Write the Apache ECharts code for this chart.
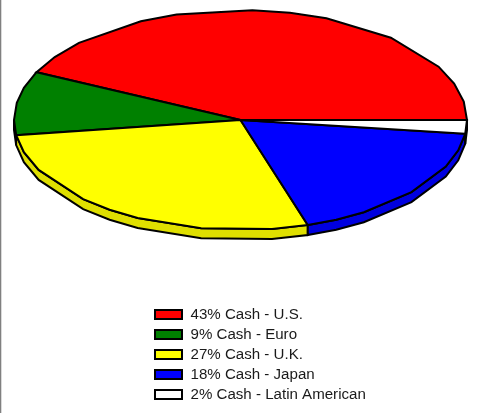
<!DOCTYPE html>
<html><head><meta charset="utf-8">
<style>html,body{margin:0;padding:0;background:#fff}#c{width:478px;height:413px}</style>
<script src="https://cdn.jsdelivr.net/npm/echarts@6/dist/echarts.min.js"></script>
</head><body><div id="c"></div>
<script>
const categories = ['43% Cash - U.S.','9% Cash - Euro','27% Cash - U.K.','18% Cash - Japan','2% Cash - Latin American'];
const shares = [42.85, 9.35, 27.6, 18.2, 2];
const topColors = ['#ff0000','#008000','#ffff00','#0000ff','#ffffff'];
const sideColors = ['#df0000','#007000','#dfdf00','#0000df','#dfdfdf'];
const outlineAngles = [9.7,19.4,29,48.4,67.7,77.4,87,106.4,116.1,135.5,145.1,163,171,180,197,207,226,234.7,243,260,278,295,303,319,335,344];
const DEPTH = 10, LW = 2;
const total = shares.reduce((a,b)=>a+b,0);
let run = 0;
const spans = shares.map(s => { const r=[run/total*360,(run+s)/total*360]; run+=s; return r; });

function renderItem(params, api){
  const a0 = api.value(0), a1 = api.value(1), i = params.seriesIndex;
  const rad = d => d*Math.PI/180;
  const ang = [a0].concat(outlineAngles.filter(d=>d>a0+0.5 && d<a1-0.5), [a1]);
  const at = d => api.coord([Math.cos(rad(d)), Math.sin(rad(d))]);
  const centre = api.coord([0,0]);
  const children = [];
  const front = ang.filter(d=>d>=180);
  if(a0<180 && a1>180 && front[0]!==180) front.unshift(180);
  if(front.length>1){
    const upper = front.map(at);
    const lower = upper.map(p=>[p[0],p[1]+DEPTH]).reverse();
    children.push({type:'polygon',shape:{points:upper.concat(lower)},
      style:{fill:sideColors[i],stroke:'#000',lineWidth:LW,lineJoin:'miter'}});
  }
  children.push({type:'polygon',shape:{points:[centre].concat(ang.map(at))},
    style:{fill:topColors[i],stroke:'#000',lineWidth:LW,lineJoin:'miter'}});
  return {type:'group',children};
}

const chart = echarts.init(document.getElementById('c'),null,{renderer:'canvas'});
chart.setOption({
  animation:false,
  backgroundColor:'#fff',
  grid:{left:14,top:10,width:453,height:220},
  xAxis:{type:'value',min:-1,max:1,show:false},
  yAxis:{type:'value',min:-1,max:1,show:false},
  legend:{
    orient:'vertical',left:154,top:307,padding:0,itemWidth:27,itemHeight:9,itemGap:5,align:'left',
    icon:'rect',selectedMode:false,
    itemStyle:{borderColor:'#000',borderWidth:2},
    textStyle:{fontFamily:'"Liberation Sans",Arial,sans-serif',fontSize:15.1,color:'#1a1a1a',padding:[0,0,0,3.5]},
    data:categories
  },
  graphic:[{type:'rect',shape:{x:0,y:0,width:1.3,height:413},style:{fill:'#808080'},silent:true}],
  series:categories.map((name,i)=>({
    type:'custom',name,silent:true,clip:false,coordinateSystem:'cartesian2d',
    itemStyle:{color:topColors[i]},
    encode:{x:0,y:1},
    renderItem,
    data:[spans[i]]
  }))
});
</script></body></html>
